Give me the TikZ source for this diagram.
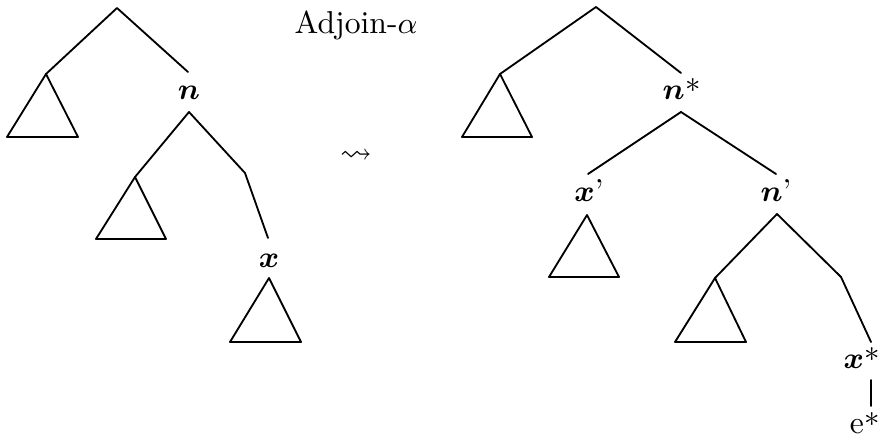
\documentclass[tikz,border=0pt]{standalone}
\usepackage{amsmath,amssymb,bm}
\newcommand{\mystar}{\kern0.3pt\raisebox{2.1pt}{$*$}}
\begin{document}
\begin{tikzpicture}[x=0.3pt,y=-0.3pt,
  br/.style={line width=0.55pt,line join=round,line cap=round},
  lab/.style={inner sep=0pt,anchor=base,font=\fontsize{9.5}{11}\selectfont}]
\useasboundingbox (0,0) rectangle (883,437);
% ---------- left tree ----------
\coordinate (r1) at (117,8);
\coordinate (a1) at (46,74);
\coordinate (t1l) at (7,137);
\coordinate (t1r) at (78,137);
\coordinate (n1t) at (188,72);
\node[lab] (n1) at (189,100) {$\bm{n}$};
\coordinate (n1b) at (189,112);
\coordinate (a2) at (135,177);
\coordinate (t2l) at (96,239);
\coordinate (t2r) at (166,239);
\coordinate (k1) at (245,173);
\coordinate (x1t) at (268,238);
\node[lab] (x1) at (269,267) {$\bm{x}$};
\coordinate (a3) at (269,278);
\coordinate (t3l) at (230,342);
\coordinate (t3r) at (301,342);
\draw[br] (a1) -- (r1) -- (n1t);
\draw[br] (a1) -- (t1l) -- (t1r) -- cycle;
\draw[br] (a2) -- (n1b) -- (k1) -- (x1t);
\draw[br] (a2) -- (t2l) -- (t2r) -- cycle;
\draw[br] (a3) -- (t3l) -- (t3r) -- cycle;
% ---------- middle ----------
\node[lab] (adj) at (356,34) {Adjoin-$\alpha$};
\node[lab,anchor=center] (arr) at (356,157) {$\leadsto$};
% ---------- right tree ----------
\coordinate (r2) at (596,7);
\coordinate (a4) at (500,74);
\coordinate (t4l) at (462,137);
\coordinate (t4r) at (532,137);
\coordinate (n2t) at (681,73);
\node[lab] (n2) at (682,100) {$\bm{n}$\mystar};
\coordinate (n2b) at (681,112);
\coordinate (xpt) at (588,174);
\node[lab] (xp) at (589,202) {$\bm{x}$'};
\coordinate (a5) at (587,215);
\coordinate (t5l) at (549,277);
\coordinate (t5r) at (619,277);
\coordinate (npt) at (776,174);
\node[lab] (np) at (776,202) {$\bm{n}$'};
\coordinate (npb) at (777,214);
\coordinate (a6) at (715,278);
\coordinate (t6l) at (675,342);
\coordinate (t6r) at (746,342);
\coordinate (k2) at (841,277);
\coordinate (xst) at (871,342);
\node[lab,anchor=base east] (xs) at (881,368) {$\bm{x}$\mystar};
\node[lab,anchor=base east] (es) at (881,433) {e\mystar};
\coordinate (vt) at (871,380);
\coordinate (vb) at (871,406);
\draw[br] (a4) -- (r2) -- (n2t);
\draw[br] (a4) -- (t4l) -- (t4r) -- cycle;
\draw[br] (xpt) -- (n2b) -- (npt);
\draw[br] (a5) -- (t5l) -- (t5r) -- cycle;
\draw[br] (a6) -- (npb) -- (k2) -- (xst);
\draw[br] (a6) -- (t6l) -- (t6r) -- cycle;
\draw[br] (vt) -- (vb);
\end{tikzpicture}
\end{document}
